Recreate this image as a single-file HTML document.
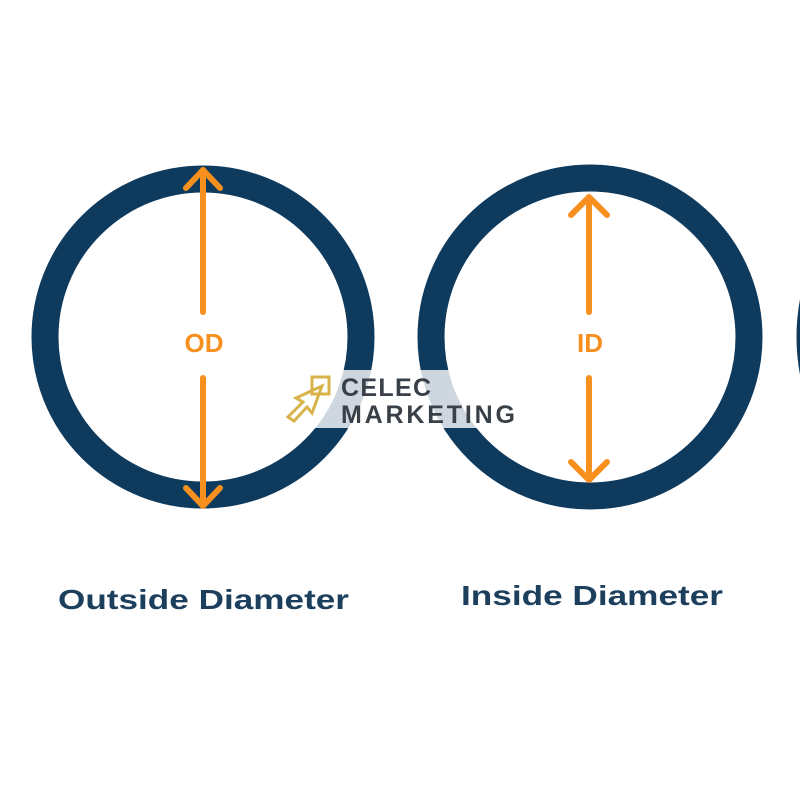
<!DOCTYPE html>
<html><head><style>
body{margin:0;background:#fff;width:800px;height:800px;overflow:hidden}
</style></head><body>
<svg width="800" height="800" viewBox="0 0 800 800" xmlns="http://www.w3.org/2000/svg">
<rect width="800" height="800" fill="#fff"/>
<g fill="none" stroke="#0e3a5e" stroke-width="27">
<circle cx="203" cy="337" r="158"/>
<circle cx="590" cy="337" r="159"/>
<circle cx="1000" cy="337" r="190"/>
</g>
<g stroke="#f7901e" stroke-width="6" fill="none" stroke-linecap="round" stroke-linejoin="round">
<line x1="203" y1="170" x2="203" y2="312"/>
<line x1="203" y1="378" x2="203" y2="504"/>
<polyline points="186,188 203,170 220,188"/>
<polyline points="186,488 203,506 220,488"/>
<line x1="589" y1="198" x2="589" y2="312"/>
<line x1="589" y1="378" x2="589" y2="478"/>
<polyline points="571,215 589,197 607,215"/>
<polyline points="571,462 589,480 607,462"/>
</g>
<g font-family="Liberation Sans, sans-serif" font-weight="bold" fill="#f7901e" font-size="26" text-anchor="middle">
<text x="204" y="352">OD</text>
<text x="590" y="352">ID</text>
</g>
<rect x="305" y="370" width="205" height="58" fill="#fff" opacity="0.8"/>
<g fill="none" stroke="#d8b34a" stroke-width="3">
<rect x="312" y="377" width="17" height="17"/>
<path d="M322,386 L296,398 L303,402 L288,417 L294,421 L307,407 L312,413 Z"/>
</g>
<g font-family="Liberation Sans, sans-serif" font-weight="bold" fill="#3a4048" font-size="25">
<text x="341" y="396" textLength="90" lengthAdjust="spacing">CELEC</text>
<text x="341" y="423" textLength="174" lengthAdjust="spacing">MARKETING</text>
</g>
<g font-family="Liberation Sans, sans-serif" font-weight="bold" fill="#1d3f5e" font-size="28">
<text x="58" y="609" textLength="291" lengthAdjust="spacingAndGlyphs">Outside Diameter</text>
<text x="461" y="605" textLength="262" lengthAdjust="spacingAndGlyphs">Inside Diameter</text>
</g>
</svg>
</body></html>
